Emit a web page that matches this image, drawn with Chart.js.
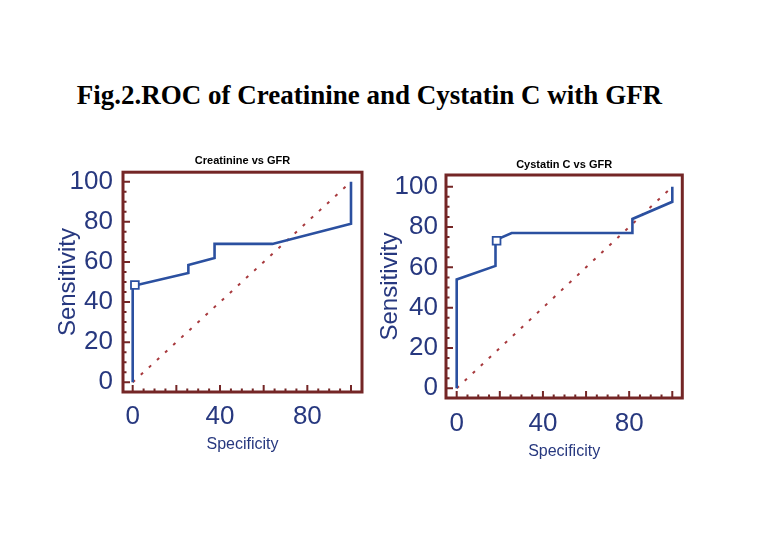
<!DOCTYPE html>
<html><head><meta charset="utf-8">
<script src="https://cdn.jsdelivr.net/npm/chart.js@4.4.1/dist/chart.umd.min.js"></script>
<style>
html,body{margin:0;padding:0;background:#fff;width:779px;height:551px;overflow:hidden;}
#main{position:absolute;left:0;width:739px;top:82px;text-align:center;font-weight:bold;font-size:27px;font-family:"Liberation Serif","Times New Roman",serif;line-height:27px;color:#000;white-space:nowrap;}
.wrap{position:absolute;}
canvas{display:block;}
</style></head><body>
<div id="main">Fig.2.ROC of Creatinine and Cystatin C with GFR</div>
<div class="wrap" style="left:0px;top:140px;width:370px;height:330px"><canvas id="c1" width="370" height="330"></canvas></div>
<div class="wrap" style="left:370px;top:140px;width:409px;height:330px"><canvas id="c2" width="409" height="330"></canvas></div>
<script>
// ---- data ----
const creatTitle = 'Creatinine vs GFR';
const creatSpec = [0, 0, 25.5, 25.5, 37.5, 37.5, 64, 100, 100];
const creatSens = [0, 48, 54.5, 58.5, 62, 69, 69, 79, 100];
const creatCutSpec = [1];
const creatCutSens = [48.5];

const cystTitle = 'Cystatin C vs GFR';
const cystSpec = [0, 0, 18, 18, 25.5, 81.5, 81.5, 100, 100];
const cystSens = [0, 54, 60.7, 73.5, 77, 77, 84, 92.5, 100];
const cystCutSpec = [18.5];
const cystCutSens = [73.2];

const refSpec = [0, 100];
const refSens = [0, 100];

const tickValues = [0,5,10,15,20,25,30,35,40,45,50,55,60,65,70,75,80,85,90,95,100];
const xLabelValues = [0, 40, 80];
const yLabelValues = [0, 20, 40, 60, 80, 100];
const xAxisTitle = 'Specificity';
const yAxisTitle = 'Sensitivity';

// ---- styles ----
const FRAME = '#742626';
const CURVE = '#2b50a0';
const TEXT = '#27387f';
const DIAG = '#a83a3e';
const SANS = '"Liberation Sans", Arial, sans-serif';

function pts(xs, ys){ return xs.map((x,i)=>({x:x, y:ys[i]})); }

const framePlugin = {
  id: 'frameTicks',
  afterDatasetsDraw(chart){
    const ctx = chart.ctx, a = chart.chartArea;
    const xs = chart.scales.x, ys = chart.scales.y;
    ctx.save();
    ctx.strokeStyle = FRAME;
    ctx.lineWidth = 2;
    ctx.beginPath();
    tickValues.forEach(v=>{
      const len = (v % 20 === 0) ? 7 : 3.5;
      const px = xs.getPixelForValue(v);
      ctx.moveTo(px, a.bottom); ctx.lineTo(px, a.bottom - len);
      const py = ys.getPixelForValue(v);
      ctx.moveTo(a.left, py); ctx.lineTo(a.left + len, py);
    });
    ctx.stroke();
    ctx.lineWidth = 3;
    ctx.strokeRect(a.left, a.top, a.right - a.left, a.bottom - a.top);
    ctx.restore();
  }
};

function makeChart(id, title, spec, sens, cutSpec, cutSens, g){
  return new Chart(document.getElementById(id), {
    type: 'scatter',
    data: {
      datasets: [
        { data: pts(refSpec, refSens), showLine: true, borderColor: DIAG, borderWidth: 2,
          borderDash: [3, 8], pointRadius: 0, order: 3 },
        { data: pts(spec, sens), showLine: true, borderColor: CURVE, borderWidth: 2.6,
          pointRadius: 0, tension: 0, order: 2 },
        { data: pts(cutSpec, cutSens), showLine: false, pointStyle: 'rect', pointRadius: 5.5,
          pointBackgroundColor: '#ffffff', pointBorderColor: CURVE, pointBorderWidth: 1.8, order: 1 }
      ]
    },
    options: {
      responsive: false, animation: false, devicePixelRatio: 1,
      layout: { padding: { left: 0, right: g.padR, top: 0, bottom: 0 } },
      plugins: {
        legend: { display: false }, tooltip: { enabled: false },
        title: { display: true, text: title, fullSize: false, color: '#000',
          font: { family: SANS, size: 11, weight: 'bold', lineHeight: 1.2 },
          padding: { top: g.tPadT, bottom: g.tPadB } }
      },
      scales: {
        x: {
          type: 'linear', min: g.xmin, max: g.xmax,
          grid: { display: false, drawTicks: false }, border: { display: false },
          afterBuildTicks: s => { s.ticks = tickValues.map(v=>({value:v})); },
          afterFit: s => { s.height = g.xH; },
          ticks: { autoSkip: false, maxRotation: 0, padding: g.xTickPad, color: TEXT,
            font: { family: SANS, size: 26, lineHeight: 1.2 },
            callback: v => xLabelValues.includes(v) ? String(v) : '' },
          title: { display: true, text: xAxisTitle, color: TEXT,
            font: { family: SANS, size: 16, lineHeight: 1.2 },
            padding: { top: 0, bottom: g.xTitlePad } }
        },
        y: {
          type: 'linear', min: g.ymin, max: g.ymax,
          grid: { display: false, drawTicks: false }, border: { display: false },
          afterBuildTicks: s => { s.ticks = tickValues.map(v=>({value:v})); },
          afterFit: s => { s.width = g.yW; },
          ticks: { autoSkip: false, padding: g.yTickPad, color: TEXT,
            font: { family: SANS, size: 26, lineHeight: 1.2 },
            callback: v => yLabelValues.includes(v) ? String(v) : '' },
          title: { display: true, text: yAxisTitle, color: TEXT,
            font: { family: SANS, size: 24, lineHeight: 1.2 },
            padding: { top: g.yTitlePad, bottom: 0 } }
        }
      }
    },
    plugins: [framePlugin]
  });
}

makeChart('c1', creatTitle, creatSpec, creatSens, creatCutSpec, creatCutSens, {
  padR: 8, tPadT: 14.5, tPadB: 4.5, xH: 78, yW: 123,
  xmin: -4.44, xmax: 105.04, ymin: -4.84, ymax: 104.74,
  xTickPad: 9, xTitlePad: 16, yTickPad: 10, yTitlePad: 53.6
});
makeChart('c2', cystTitle, cystSpec, cystSens, cystCutSpec, cystCutSens, {
  padR: 96.7, tPadT: 18, tPadB: 3.8, xH: 72, yW: 76,
  xmin: -4.96, xmax: 104.64, ymin: -4.81, ymax: 105.8,
  xTickPad: 10, xTitlePad: 8.7, yTickPad: 8, yTitlePad: 5.6
});
</script>
</body></html>
